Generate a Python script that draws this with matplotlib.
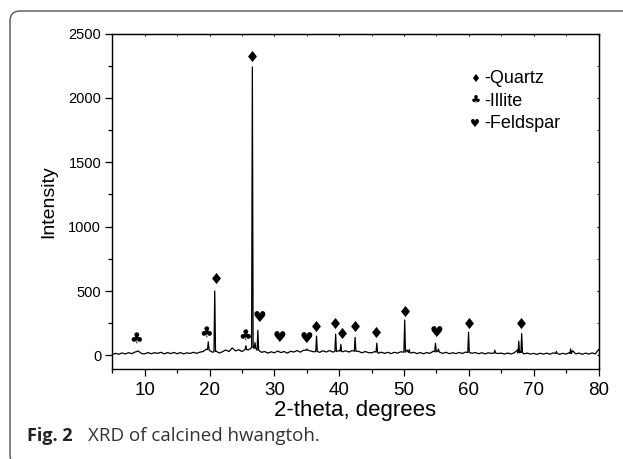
import matplotlib
matplotlib.use("Agg")
import matplotlib.pyplot as plt
import numpy as np
from matplotlib.patches import FancyBboxPatch
from matplotlib.transforms import IdentityTransform
from matplotlib.ticker import MultipleLocator

# baseline of the pattern, 5.0 .. 80.0 deg in 0.5 deg steps
base_start, base_step = 5.0, 0.5
base_counts = [
    6, 16, 9, 19, 11, 21, 14, 26, 34, 15,
    12, 22, 13, 21, 16, 24, 12, 22, 14, 23,
    13, 22, 12, 20, 15, 24, 16, 25, 30, 48,
    38, 24, 33, 18, 29, 42, 30, 58, 35, 44,
    30, 48, 42, 70, 52, 46, 24, 30, 18, 28,
    20, 34, 22, 30, 18, 32, 26, 38, 25, 40,
    46, 36, 28, 38, 24, 36, 26, 38, 26, 34,
    38, 28, 36, 26, 38, 24, 32, 20, 30, 22,
    20, 30, 17, 25, 16, 24, 14, 24, 18, 28,
    30, 42, 18, 24, 14, 22, 13, 22, 16, 32,
    46, 24, 16, 24, 13, 21, 14, 23, 15, 26,
    30, 17, 22, 13, 21, 12, 20, 16, 38, 15,
    18, 10, 19, 11, 20, 42, 28, 12, 18, 10,
    16, 8, 17, 10, 18, 9, 20, 28, 9, 16,
    10, 22, 36, 12, 18, 8, 18, 10, 19, 12,
    45,
]

# sharp reflections: position, top, foot level
peak_pos = [19.8, 20.8, 25.6, 26.6, 27.0, 27.45, 35.0, 36.5, 39.45, 40.25, 42.45,
            45.8, 50.1, 50.8, 54.85, 55.3, 59.95, 64.0, 67.7, 68.15, 73.5, 75.7]
peak_top = [105, 500, 75, 2240, 100, 195, 50, 150, 165, 85, 140,
            95, 275, 45, 95, 50, 180, 40, 110, 170, 30, 50]
peak_foot = [45, 30, 45, 60, 55, 40, 40, 30, 30, 32, 32,
             25, 25, 22, 28, 30, 22, 18, 20, 22, 15, 15]

# phase markers
quartz_x = [21.0, 26.55, 36.4, 39.4, 40.4, 42.45, 45.7, 50.1, 60.0, 68.0]
quartz_y = [604, 2329, 228, 249, 176, 228, 179, 345, 254, 254]
illite_x = [8.75, 19.55, 25.45]
illite_y = [130, 182, 160]
feldspar_x = [27.75, 30.85, 35.0, 55.0]
feldspar_y = [296, 142, 130, 180]

legend_labels = ["-Quartz", "-Illite", "-Feldspar"]
legend_symbols = ["\u2666", "\u2663", "\u2665"]

DIAMOND = [(0, 1), (0.8, 0), (0, -1), (-0.8, 0), (0, 1)]


def build_pattern():
    bx = base_start + base_step * np.arange(len(base_counts))
    by = np.array(base_counts, dtype=float)
    keep = np.ones(len(bx), dtype=bool)
    for p in peak_pos:
        keep &= np.abs(bx - p) > 0.15
    xs = list(bx[keep])
    ys = list(by[keep])
    for p, t, f in zip(peak_pos, peak_top, peak_foot):
        xs += [p - 0.12, p, p + 0.12]
        ys += [f, t, f]
    order = np.argsort(xs)
    return np.array(xs)[order], np.array(ys)[order]


def main():
    plt.rcParams['font.family'] = ['Liberation Sans', 'DejaVu Sans']
    fig = plt.figure(figsize=(6.23, 4.59), dpi=100)
    ax = fig.add_axes([0.1803, 0.1954, 0.7804, 0.7316])

    x, y = build_pattern()
    ax.plot(x, y, color="black", lw=0.9)

    ax.scatter(quartz_x, quartz_y, marker=DIAMOND, s=64, color="black", lw=0, zorder=3)
    sym = dict(ha="center", va="center", fontsize=11, family="DejaVu Sans", color="black")
    for px, py in zip(illite_x, illite_y):
        ax.text(px, py, "\u2663", **sym)
    for px, py in zip(feldspar_x, feldspar_y):
        ax.text(px, py, "\u2665", **sym)

    for i, (s, lab) in enumerate(zip(legend_symbols, legend_labels)):
        yy = 2150 - i * 175
        ax.text(61.0, yy, s, ha="center", va="center", fontsize=8, family="DejaVu Sans")
        ax.text(62.3, yy, lab, ha="left", va="center", fontsize=13)

    ax.set_xlim(5, 80)
    ax.set_ylim(-108, 2500)
    ax.xaxis.set_major_locator(MultipleLocator(10))
    ax.xaxis.set_minor_locator(MultipleLocator(5))
    ax.yaxis.set_major_locator(MultipleLocator(500))
    ax.yaxis.set_minor_locator(MultipleLocator(250))
    ax.tick_params(which="major", direction="out", length=5, width=0.9, pad=4)
    ax.tick_params(which="minor", direction="out", length=3, width=0.9)
    ax.tick_params(axis="x", labelsize=13.5, pad=4)
    ax.tick_params(axis="y", labelsize=10.5, pad=3)
    for sp in ax.spines.values():
        sp.set_linewidth(1.0)

    top = ax.secondary_xaxis("top")
    top.xaxis.set_major_locator(MultipleLocator(10))
    top.xaxis.set_minor_locator(MultipleLocator(5))
    top.tick_params(which="both", direction="in", length=1.5, labeltop=False)
    right = ax.secondary_yaxis("right")
    right.yaxis.set_major_locator(MultipleLocator(500))
    right.yaxis.set_minor_locator(MultipleLocator(250))
    right.tick_params(which="both", direction="in", length=1.5, labelright=False)

    ax.set_xlabel("2-theta, degrees", fontsize=16, labelpad=1)
    ax.set_ylabel("Intensity", fontsize=14, labelpad=8)

    # caption and frame
    fig.text(27 / 623, 1 - 436 / 459, "Fig. 2", family="Open Sans", fontweight="bold",
             fontsize=13, color="#222222", va="center")
    fig.text(88 / 623, 1 - 436 / 459, "XRD of calcined hwangtoh.", family="Open Sans",
             fontsize=13.5, color="#333333", va="center")
    frame = FancyBboxPatch((10, -6), 630, 454, boxstyle="round,pad=0,rounding_size=10",
                           transform=IdentityTransform(), fill=False, ec="#555555", lw=1.0)
    fig.patches.append(frame)

    fig.savefig("out.png", dpi=100)


if __name__ == '__main__':
    main()
